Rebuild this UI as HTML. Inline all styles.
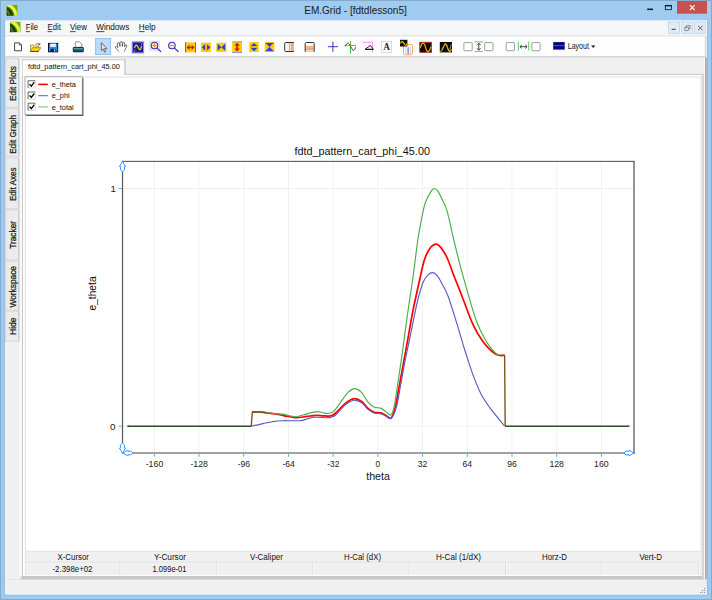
<!DOCTYPE html>
<html><head><meta charset="utf-8"><title>EM.Grid - [fdtdlesson5]</title>
<style>
html,body{margin:0;padding:0;background:#9fcbf1;overflow:hidden}
svg{display:block;font-family:"Liberation Sans",sans-serif}
</style></head><body>
<svg width="712" height="600" viewBox="0 0 712 600">
<rect x="0" y="0" width="712" height="600" fill="#9fcbf1"/>
<rect x="0.5" y="0.5" width="711" height="599" fill="none" stroke="#86aace" stroke-width="1"/>
<path d="M3.6 20.5 V596 H708.4 V20.5 H706.8 V594.4 H5.3 V20.5 Z" fill="#93c2ea"/>
<rect x="5.3" y="20.5" width="701.5" height="573.9" fill="#f0f0f0"/>
<rect x="5.5" y="20.5" width="701.5" height="14.5" fill="#f5f6f7"/>
<rect x="5.5" y="35" width="701.5" height="1.6" fill="#e6e7e8"/>
<rect x="5.5" y="36.6" width="699.3" height="19.4" fill="#fdfdfd"/>
<rect x="5.5" y="56" width="700.5" height="1.6" fill="#d6d6d6"/>
<rect x="704.8" y="36.6" width="1" height="20" fill="#dcdcdc"/>
<text x="355.5" y="14" font-size="11" text-anchor="middle" fill="#1a1a1a" textLength="102.5" lengthAdjust="spacingAndGlyphs" >EM.Grid - [fdtdlesson5]</text>
<rect x="677" y="1" width="30" height="12.7" fill="#c75050"/>
<path d="M689.9 5.2 L694.7 10 M694.7 5.2 L689.9 10" stroke="#fff" stroke-width="1.1" fill="none"/>
<rect x="665.3" y="5.5" width="6.2" height="4.2" fill="none" stroke="#111" stroke-width="0.8"/><rect x="664.9" y="5" width="7" height="1.3" fill="#111"/>
<rect x="647.2" y="8.6" width="5.8" height="1.45" fill="#111"/>
<defs><clipPath id="ic1"><rect x="0" y="0" width="11" height="11"/></clipPath></defs><g transform="translate(6.6,4.7) scale(1.0)" clip-path="url(#ic1)"><rect x="0" y="0" width="11" height="11" fill="#68b404"/><path d="M0 0 H5 Q10 3 11 9 V11 H0 Z" fill="#98d414"/><path d="M0 0 H4.4 Q9.8 3.4 10.8 11 H0 Z" fill="#f2f23c"/><path d="M0 1.2 Q6.6 3.6 8 11 H0 Z" fill="#2a7a10"/><path d="M0 2.6 Q5.2 4.8 6.4 11 H0 Z" fill="#0c4208"/><path d="M0 4.6 Q3.2 6.4 4 11 H0 Z" fill="#5a6a1a"/><path d="M0 7.6 Q1.4 8.6 1.8 11 H0 Z" fill="#2a3a0c"/></g>
<defs><clipPath id="ic2"><rect x="0" y="0" width="11" height="11"/></clipPath></defs><g transform="translate(9.9,21.5) scale(0.9818181818181819)" clip-path="url(#ic2)"><rect x="0" y="0" width="11" height="11" fill="#68b404"/><path d="M0 0 H5 Q10 3 11 9 V11 H0 Z" fill="#98d414"/><path d="M0 0 H4.4 Q9.8 3.4 10.8 11 H0 Z" fill="#f2f23c"/><path d="M0 1.2 Q6.6 3.6 8 11 H0 Z" fill="#2a7a10"/><path d="M0 2.6 Q5.2 4.8 6.4 11 H0 Z" fill="#0c4208"/><path d="M0 4.6 Q3.2 6.4 4 11 H0 Z" fill="#5a6a1a"/><path d="M0 7.6 Q1.4 8.6 1.8 11 H0 Z" fill="#2a3a0c"/></g>
<text x="25.8" y="30.2" font-size="9.4" text-anchor="start" fill="#111" textLength="12.2" lengthAdjust="spacingAndGlyphs" >File</text>
<rect x="25.8" y="31.3" width="4.2" height="0.8" fill="#222"/>
<text x="47.6" y="30.2" font-size="9.4" text-anchor="start" fill="#111" textLength="13.2" lengthAdjust="spacingAndGlyphs" >Edit</text>
<rect x="47.6" y="31.3" width="4.6" height="0.8" fill="#222"/>
<text x="70" y="30.2" font-size="9.4" text-anchor="start" fill="#111" textLength="16.8" lengthAdjust="spacingAndGlyphs" >View</text>
<rect x="70" y="31.3" width="5.6" height="0.8" fill="#222"/>
<text x="96.3" y="30.2" font-size="9.4" text-anchor="start" fill="#111" textLength="33" lengthAdjust="spacingAndGlyphs" >Windows</text>
<rect x="96.3" y="31.3" width="8.2" height="0.8" fill="#222"/>
<text x="138.8" y="30.2" font-size="9.4" text-anchor="start" fill="#111" textLength="16.8" lengthAdjust="spacingAndGlyphs" >Help</text>
<rect x="138.8" y="31.3" width="5.8" height="0.8" fill="#222"/>
<rect x="668.3" y="22" width="11.3" height="11.3" fill="#e0ebf8" stroke="#bccce0" stroke-width="0.7"/>
<rect x="681.3" y="22" width="11.3" height="11.3" fill="#e0ebf8" stroke="#bccce0" stroke-width="0.7"/>
<rect x="694.3" y="22" width="11.3" height="11.3" fill="#e0ebf8" stroke="#bccce0" stroke-width="0.7"/>
<rect x="671.7" y="28.8" width="4" height="1.2" fill="#555"/>
<rect x="684.8" y="27.3" width="3.8" height="3" fill="none" stroke="#666" stroke-width="0.7"/><path d="M686.3 27 V25.6 H690.2 V28.7 H689" fill="none" stroke="#666" stroke-width="0.7"/>
<path d="M698 25.7 L702.7 30.2 M702.7 25.7 L698 30.2" stroke="#505050" stroke-width="0.9"/>
<path d="M14.6 42.8 H19.3 L21.5 45 V50.8 H14.6 Z" fill="#fff" stroke="#333" stroke-width="0.9"/><path d="M19.3 42.8 V45 H21.5" fill="none" stroke="#333" stroke-width="0.7"/>
<path d="M30.5 45 H33.5 L34.3 46 H38.5 V51.3 H30.5 Z" fill="#ffe47a" stroke="#8a6a10" stroke-width="0.6"/>
<path d="M30.6 51.3 L32.6 47.6 H40.8 L38.6 51.3 Z" fill="#ffd21e" stroke="#8a6a10" stroke-width="0.6"/><rect x="30.4" y="51.1" width="8.4" height="0.7" fill="#3a3010"/>
<path d="M35.5 44.5 Q37.5 42.8 39.5 44.2 M39.8 43 V44.8 H38" fill="none" stroke="#333" stroke-width="0.7"/>
<rect x="48.5" y="43.4" width="9.2" height="8.4" fill="#1a94ec" stroke="#0c0c3c" stroke-width="1"/>
<rect x="50.3" y="43.6" width="5.6" height="3.3" fill="#f4f4f4"/><rect x="50.6" y="48.9" width="5" height="2.9" fill="#151540"/><rect x="54" y="49.5" width="1.1" height="1.8" fill="#eee"/>
<path d="M75.3 47.2 V42.6 Q75.3 41.8 76.1 41.8 H79.4 L81.8 44 V47.2 Z" fill="#fff" stroke="#777" stroke-width="0.8"/>
<rect x="72.8" y="47" width="11" height="5.2" rx="1.2" fill="#12226e"/>
<rect x="73.6" y="47.9" width="9.4" height="1.6" fill="#3fb070"/><rect x="73.6" y="49.5" width="9.4" height="1.2" fill="#2e6a9a"/>
<rect x="95.6" y="38.5" width="14.9" height="16" fill="#bedcf9" stroke="#94c2f2" stroke-width="1.1"/>
<path d="M101.3 42.6 V50.6 L103.2 49 L104.6 52.2 L105.8 51.7 L104.5 48.6 L106.9 48.4 Z" fill="#d4e6f8" stroke="#4a4a4a" stroke-width="0.75" stroke-linejoin="round"/>
<path d="M118.7 51.4 L115.5 47.6 Q115.2 46.4 116.4 46.4 L118 47.6 L117.2 44 Q117.4 42.4 118.6 42.6 Q119.4 42.8 119.6 44 L120 46.4 L119.9 43 Q120.2 41.4 121.2 41.4 Q122.2 41.4 122.3 43 L122.4 46.4 L122.6 43.4 Q123 42 123.9 42.3 Q124.8 42.6 124.7 44 L124.5 46.8 L125.3 45.2 Q126 44.4 126.6 45 Q127 45.6 126.6 46.6 L124.4 51.2" fill="#fff" stroke="#3a3a3a" stroke-width="0.7" stroke-linejoin="round" stroke-linecap="round"/>
<rect x="132.2" y="41.9" width="11.4" height="11" fill="#1c1c9c" stroke="#8c8cec" stroke-width="1.1"/>
<path d="M134.6 48 Q135.6 44 137 45.6 Q138.2 47 138.8 48.6 Q140 50.8 141 48.2 L141.5 45.8" fill="none" stroke="#ffd400" stroke-width="1.15"/>
<circle cx="141.7" cy="44.2" r="0.6" fill="#ffd400"/><circle cx="134.4" cy="50.8" r="0.6" fill="#ffd400"/>
<rect x="149.2" y="41.2" width="10.5" height="9" fill="#f0f0f0" stroke="#d8d8d8" stroke-width="0.6"/>
<path d="M157.1 48.1 L161.1 51.9" stroke="#2c2cc0" stroke-width="1.3"/><path d="M156.9 48.1 L158.1 49.1" stroke="#6a9a3a" stroke-width="0.9"/><circle cx="154.5" cy="45.5" r="3.3" fill="#ffe9c8" stroke="#3232c8" stroke-width="1.1"/><rect x="152.6" y="44.95" width="3.8" height="1.1" fill="#ff8a1e"/><rect x="153.95" y="43.6" width="1.1" height="3.8" fill="#ff8a1e"/>
<path d="M174.5 48.1 L178.5 51.9" stroke="#2c2cc0" stroke-width="1.3"/><path d="M174.3 48.1 L175.5 49.1" stroke="#6a9a3a" stroke-width="0.9"/><circle cx="171.9" cy="45.5" r="3.3" fill="#ffe9c8" stroke="#3232c8" stroke-width="1.1"/><rect x="170.0" y="44.95" width="3.8" height="1.1" fill="#ff8a1e"/>
<rect x="185.3" y="42.4" width="10.5" height="9.9" fill="#ffcc00"/><rect x="185.3" y="42.2" width="0.8" height="10.3" fill="#3c3cc8"/><rect x="195" y="42.2" width="0.8" height="10.3" fill="#3c3cc8"/>
<path d="M186.6 47.4 L189.6 44.8 V46.7 H191.6 V44.8 L194.6 47.4 L191.6 50 V48.1 H189.6 V50 Z" fill="#d01818"/>
<rect x="201" y="42.7" width="10" height="9.2" fill="#ffcc00"/><rect x="205.7" y="43.4" width="0.7" height="7.8" fill="#c89a00"/>
<path d="M201.8 47.3 L205 44.2 V50.4 Z M210.3 47.3 L207.1 44.2 V50.4 Z" fill="#2a3ae0"/>
<rect x="216.4" y="42.7" width="9.9" height="9.2" fill="#ffcc00"/>
<path d="M217.6 43.8 L221.4 47.3 L217.6 50.8 Z M225.2 43.8 L221.4 47.3 L225.2 50.8 Z" fill="#2a3ae0"/>
<rect x="232.2" y="41.7" width="9.8" height="11" fill="#ffcc00"/><rect x="232.2" y="41.5" width="9.8" height="0.8" fill="#7a7af0"/><rect x="232.2" y="52" width="9.8" height="0.8" fill="#7a7af0"/>
<path d="M237.1 42.8 L239.8 45.8 H237.9 V48.6 H239.8 L237.1 51.6 L234.4 48.6 H236.3 V45.8 H234.4 Z" fill="#d01818"/>
<rect x="249.2" y="42.1" width="9.6" height="9.9" fill="#ffcc00"/><rect x="250.2" y="46.7" width="7.6" height="0.7" fill="#c89a00"/>
<path d="M254 42.9 L257.2 46.1 H250.8 Z M254 51.2 L257.2 48 H250.8 Z" fill="#2a3ae0"/>
<rect x="264.8" y="42.1" width="9.5" height="9.9" fill="#ffcc00"/><rect x="265.6" y="42.9" width="7.9" height="0.9" fill="#2a3ae0"/><rect x="265.6" y="50.3" width="7.9" height="0.9" fill="#2a3ae0"/>
<path d="M266 43.3 H273.1 L269.55 47.05 Z M266 50.8 H273.1 L269.55 47.05 Z" fill="#2a3ae0"/>
<rect x="284.8" y="42.5" width="9.1" height="8.8" fill="#fff"/>
<rect x="290.6" y="42.9" width="3.3" height="8" fill="#f4a878"/><rect x="289.2" y="42.9" width="0.8" height="8" fill="#f09050"/><rect x="287.6" y="42.9" width="0.7" height="8" fill="#cfe0ee"/>
<path d="M293.9 42.5 H285.8 Q284.7 42.5 284.7 43.6 V50.4 Q284.7 51.5 285.8 51.5 H293.9" fill="none" stroke="#333" stroke-width="1"/>
<rect x="305.2" y="42.5" width="9" height="9.3" fill="#fff"/>
<rect x="305.6" y="47.2" width="8.2" height="3.2" fill="#f4a878"/><rect x="305.6" y="45.9" width="8.2" height="0.8" fill="#f09050"/><rect x="305.6" y="50.4" width="8.2" height="0.6" fill="#cfe0ee"/><rect x="305.6" y="51" width="8.2" height="0.8" fill="#f4b890"/>
<path d="M305.2 51.8 V43.6 Q305.2 42.5 306.3 42.5 H313.1 Q314.2 42.5 314.2 43.6 V51.8" fill="none" stroke="#333" stroke-width="1"/>
<path d="M327.9 46.7 H338 M332.9 41.7 V51.8" stroke="#3a3ab0" stroke-width="1" fill="none"/>
<path d="M350.5 41 V53.7 M344.7 45.4 H356.1" stroke="#30c050" stroke-width="0.9" fill="none"/>
<path d="M345.2 46.3 Q347.4 41.2 349.4 44.2 L351.8 48.6 Q353.8 52.8 355.7 47.2" stroke="#222" stroke-width="0.8" fill="none"/>
<rect x="349.7" y="44.6" width="1.6" height="1.6" fill="#ff8000"/>
<path d="M362.4 42.3 H372.5 V52.4" stroke="#ff70ff" stroke-width="0.8" fill="none"/>
<path d="M365.1 49.3 L370.4 45.4 L373.3 49.3 Z" stroke="#111" stroke-width="0.9" fill="#fff" stroke-linejoin="miter"/><rect x="365" y="48.9" width="8.4" height="0.9" fill="#111"/>
<rect x="381.3" y="41.4" width="10.4" height="10.9" fill="#fff" stroke="#c8c8c8" stroke-width="0.7"/>
<text x="386.5" y="50" font-family="Liberation Serif" font-weight="bold" font-size="9.3" text-anchor="middle" fill="#1a1a3a">A</text>
<rect x="403.4" y="44.5" width="9.1" height="10.3" rx="1.2" fill="#fff" stroke="#ff9a50" stroke-width="0.9"/>
<rect x="407.4" y="47.2" width="1.5" height="7" fill="#8a8af0"/><rect x="405.4" y="47.2" width="0.9" height="7" fill="#d0d0d0"/><rect x="410.1" y="47.2" width="0.9" height="7" fill="#d0d0d0"/>
<rect x="400" y="39.8" width="7.4" height="6.7" fill="#111"/>
<path d="M400.5 43.4 Q401.4 41 402.6 41.8 Q403.6 42.6 404.4 44 Q405.6 46 406.6 44.8 L407.1 43.4" stroke="#f0c000" stroke-width="1.1" fill="none"/>
<rect x="419.8" y="42.3" width="11.6" height="10" fill="#0a0a0a" stroke="#c02020" stroke-width="0.9"/>
<path d="M420.6 47.2 Q421.6 43 423.4 43.3 Q424.8 43.6 425.6 47.4 Q426.6 51.6 428 51.6 Q429.6 51.4 430.7 47.2" stroke="#f4cc00" stroke-width="1.1" fill="none"/><circle cx="420.5" cy="47.2" r="0.6" fill="#ff9a20"/><circle cx="430.8" cy="47.2" r="0.6" fill="#ff9a20"/>
<rect x="439.8" y="42" width="12.2" height="10.4" fill="#0a0a0a"/>
<path d="M441.6 49 Q443.4 47 444.6 45.2 Q445.8 43.8 446.8 45.4 Q448 48 448.8 50.6 Q449.6 51.4 450.2 49 L451.3 44.4" stroke="#a0a0b0" stroke-width="0.8" fill="none"/>
<path d="M440.3 51.8 Q442.4 50.8 443.6 46.8 Q444.6 43.4 445.4 43.6 Q446.4 43.8 447.4 47.6 Q448.6 51.6 449.8 51.6 Q450.8 51.4 451.6 49.4" stroke="#e8b000" stroke-width="1.1" fill="none"/>
<rect x="463.9" y="42.6" width="8.3" height="8.1" rx="0.7" fill="#fff" stroke="#949494" stroke-width="0.9"/>
<rect x="484.7" y="42.6" width="8.3" height="8.1" rx="0.7" fill="#fff" stroke="#949494" stroke-width="0.9"/>
<rect x="506.2" y="42.6" width="8.3" height="8.1" rx="0.7" fill="#fff" stroke="#949494" stroke-width="0.9"/>
<rect x="531.8" y="42.6" width="8.3" height="8.1" rx="0.7" fill="#fff" stroke="#949494" stroke-width="0.9"/>
<path d="M474.7 41.9 H482.8 M474.7 51.4 H482.8" stroke="#40d040" stroke-width="0.9"/>
<path d="M478.8 43.4 V50 M477 45.2 L478.8 43.2 L480.6 45.2 M477 48.2 L478.8 50.2 L480.6 48.2" stroke="#222" stroke-width="0.8" fill="none"/>
<path d="M518.3 41.7 V50.6 M528.7 41.7 V50.6" stroke="#40d040" stroke-width="0.9"/>
<path d="M520 46.7 H527 M521.8 45 L519.9 46.7 L521.8 48.4 M525.2 45 L527.1 46.7 L525.2 48.4" stroke="#222" stroke-width="0.8" fill="none"/>
<rect x="553.2" y="42.1" width="11.5" height="7.5" fill="#000080"/><rect x="553.2" y="45.4" width="11.5" height="0.7" fill="#8080d0"/>
<text x="567.7" y="49.1" font-size="8.4" text-anchor="start" fill="#111" textLength="21.3" lengthAdjust="spacingAndGlyphs" >Layout</text>
<path d="M591.1 45.6 H595.3 L593.2 47.9 Z" fill="#1a1a1a"/>
<rect x="5.8" y="58.8" width="13.3" height="48.7" fill="#ececec" stroke="#d0d0d0" stroke-width="0.8"/>
<rect x="18.6" y="58.8" width="0.9" height="48.7" fill="#b4b4b4"/>
<text transform="translate(16.3,83.5) rotate(-90)" font-size="8.7" text-anchor="middle" fill="#1a1a1a" stroke="#1a1a1a" stroke-width="0.25" textLength="35" lengthAdjust="spacingAndGlyphs">Edit Plots</text>
<rect x="5.8" y="108.8" width="13.3" height="47.500000000000014" fill="#ececec" stroke="#d0d0d0" stroke-width="0.8"/>
<rect x="18.6" y="108.8" width="0.9" height="47.500000000000014" fill="#b4b4b4"/>
<text transform="translate(16.3,134.4) rotate(-90)" font-size="8.7" text-anchor="middle" fill="#1a1a1a" stroke="#1a1a1a" stroke-width="0.25" textLength="38.80000000000001" lengthAdjust="spacingAndGlyphs">Edit Graph</text>
<rect x="5.8" y="158" width="13.3" height="50.80000000000001" fill="#ececec" stroke="#d0d0d0" stroke-width="0.8"/>
<rect x="18.6" y="158" width="0.9" height="50.80000000000001" fill="#b4b4b4"/>
<text transform="translate(16.3,184.25) rotate(-90)" font-size="8.7" text-anchor="middle" fill="#1a1a1a" stroke="#1a1a1a" stroke-width="0.25" textLength="33.5" lengthAdjust="spacingAndGlyphs">Edit Axes</text>
<rect x="5.8" y="210" width="13.3" height="50" fill="#ececec" stroke="#d0d0d0" stroke-width="0.8"/>
<rect x="18.6" y="210" width="0.9" height="50" fill="#b4b4b4"/>
<text transform="translate(16.3,234.9) rotate(-90)" font-size="8.7" text-anchor="middle" fill="#1a1a1a" stroke="#1a1a1a" stroke-width="0.25" textLength="27.80000000000001" lengthAdjust="spacingAndGlyphs">Tracker</text>
<rect x="5.8" y="261" width="13.3" height="49" fill="#ececec" stroke="#d0d0d0" stroke-width="0.8"/>
<rect x="18.6" y="261" width="0.9" height="49" fill="#b4b4b4"/>
<text transform="translate(16.3,286.75) rotate(-90)" font-size="8.7" text-anchor="middle" fill="#1a1a1a" stroke="#1a1a1a" stroke-width="0.25" textLength="41.5" lengthAdjust="spacingAndGlyphs">Workspace</text>
<rect x="5.8" y="311" width="13.3" height="30" fill="#ececec" stroke="#d0d0d0" stroke-width="0.8"/>
<rect x="18.6" y="311" width="0.9" height="30" fill="#b4b4b4"/>
<text transform="translate(16.3,326.25) rotate(-90)" font-size="8.7" text-anchor="middle" fill="#1a1a1a" stroke="#1a1a1a" stroke-width="0.25" textLength="17.5" lengthAdjust="spacingAndGlyphs">Hide</text>
<rect x="19.6" y="58" width="2.4" height="518" fill="#fbfbfb"/>
<path d="M19.9 579.4 L22 575.9 H704.6 V579.4 Z" fill="#c6c6c6"/>
<rect x="22" y="74.3" width="680" height="202" fill="#fdfdfd"/>
<rect x="22" y="276" width="680" height="299.9" fill="#fdfdfd"/>
<rect x="701.8" y="74.3" width="2.3" height="505.1" fill="#d6d6d6"/>
<rect x="704.1" y="57.6" width="1" height="521.8" fill="#fbfbfb"/>
<rect x="705.1" y="57.6" width="1.7" height="521.8" fill="#a6a6a6"/>
<rect x="124.6" y="73.9" width="579.2" height="0.9" fill="#c4c4c4"/>
<rect x="21.9" y="59.3" width="1.05" height="516.8" fill="#c8c8c8"/>
<rect x="22.7" y="59.8" width="102" height="17" fill="#fdfdfd"/>
<rect x="21.7" y="59.3" width="103.8" height="0.9" fill="#c8c8c8"/>
<rect x="124.5" y="59.3" width="1" height="15.4" fill="#b8b8b8"/>
<text x="28" y="69.3" font-size="7.5" text-anchor="start" fill="#111" textLength="91.8" lengthAdjust="spacingAndGlyphs" >fdtd_pattern_cart_phi_45.00</text>
<rect x="25.4" y="77" width="675.6" height="497.6" fill="#fff" stroke="#dedede" stroke-width="0.9"/>
<rect x="25.8" y="574.4" width="675.8" height="1.5" fill="#fdfdfd"/>
<rect x="25.8" y="551" width="674.8" height="23.5" fill="#f0f0f0"/>
<rect x="25.8" y="550.8" width="674.8" height="0.8" fill="#e2e2e2"/>
<rect x="25.8" y="561.6" width="674.8" height="0.8" fill="#e0e0e0"/>
<text x="73.25" y="560" font-size="8.3" text-anchor="middle" fill="#111" textLength="31.5" lengthAdjust="spacingAndGlyphs" >X-Cursor</text>
<text x="170" y="560" font-size="8.3" text-anchor="middle" fill="#111" textLength="32" lengthAdjust="spacingAndGlyphs" >Y-Cursor</text>
<text x="266.5" y="560" font-size="8.3" text-anchor="middle" fill="#111" textLength="33" lengthAdjust="spacingAndGlyphs" >V-Caliper</text>
<text x="362.5" y="560" font-size="8.3" text-anchor="middle" fill="#111" textLength="37" lengthAdjust="spacingAndGlyphs" >H-Cal (dX)</text>
<text x="458.5" y="560" font-size="8.3" text-anchor="middle" fill="#111" textLength="45" lengthAdjust="spacingAndGlyphs" >H-Cal (1/dX)</text>
<text x="554.5" y="560" font-size="8.3" text-anchor="middle" fill="#111" textLength="25" lengthAdjust="spacingAndGlyphs" >Horz-D</text>
<text x="650.75" y="560" font-size="8.3" text-anchor="middle" fill="#111" textLength="22.5" lengthAdjust="spacingAndGlyphs" >Vert-D</text>
<rect x="119.6" y="562.4" width="0.8" height="12" fill="#d8d8d8"/><rect x="120.4" y="562.4" width="0.8" height="12" fill="#fafafa"/>
<rect x="216.0" y="562.4" width="0.8" height="12" fill="#d8d8d8"/><rect x="216.8" y="562.4" width="0.8" height="12" fill="#fafafa"/>
<rect x="312.4" y="562.4" width="0.8" height="12" fill="#d8d8d8"/><rect x="313.2" y="562.4" width="0.8" height="12" fill="#fafafa"/>
<rect x="408.8" y="562.4" width="0.8" height="12" fill="#d8d8d8"/><rect x="409.6" y="562.4" width="0.8" height="12" fill="#fafafa"/>
<rect x="505.2" y="562.4" width="0.8" height="12" fill="#d8d8d8"/><rect x="506.0" y="562.4" width="0.8" height="12" fill="#fafafa"/>
<rect x="601.6" y="562.4" width="0.8" height="12" fill="#d8d8d8"/><rect x="602.4" y="562.4" width="0.8" height="12" fill="#fafafa"/>
<rect x="698.0" y="562.4" width="0.8" height="12" fill="#d8d8d8"/><rect x="698.8" y="562.4" width="0.8" height="12" fill="#fafafa"/>
<text x="72.5" y="572.2" font-size="8.3" text-anchor="middle" fill="#111" textLength="40" lengthAdjust="spacingAndGlyphs" >-2.398e+02</text>
<text x="169.5" y="572.2" font-size="8.3" text-anchor="middle" fill="#111" textLength="34" lengthAdjust="spacingAndGlyphs" >1.099e-01</text>
<rect x="5.5" y="579.2" width="14.5" height="0.7" fill="#e2e2e2"/>
<rect x="5.4" y="593.5" width="701.4" height="0.9" fill="#f8f6f4"/>
<rect x="5.3" y="342" width="1.3" height="252" fill="#f7f5f3"/>
<rect x="703.9" y="587.9" width="1.15" height="1.15" rx="0.3" fill="#8e8e8e"/>
<rect x="701.8" y="589.9" width="1.15" height="1.15" rx="0.3" fill="#8e8e8e"/>
<rect x="703.9" y="589.9" width="1.15" height="1.15" rx="0.3" fill="#8e8e8e"/>
<rect x="699.8" y="591.9" width="1.15" height="1.15" rx="0.3" fill="#8e8e8e"/>
<rect x="701.8" y="591.9" width="1.15" height="1.15" rx="0.3" fill="#8e8e8e"/>
<rect x="703.9" y="591.9" width="1.15" height="1.15" rx="0.3" fill="#8e8e8e"/>
<rect x="26.2" y="77.9" width="57.2" height="38.1" fill="#555"/>
<rect x="25" y="76.8" width="57.2" height="38" fill="#fff" stroke="#8a8a8a" stroke-width="0.7"/>
<rect x="28.1" y="80.7" width="7.2" height="7.2" fill="#fff" stroke="#d4d4d4" stroke-width="0.8"/><path d="M28.1 87.9 V80.7 H35.3" fill="none" stroke="#6a6a6a" stroke-width="0.9"/>
<path d="M29.6 84.1 L31.3 86.2 L34.3 82.2" stroke="#000" stroke-width="1.3" fill="none"/>
<path d="M38.2 84.4 H47.8" stroke="#ff0000" stroke-width="1.6"/>
<text x="51.7" y="87.1" font-size="7.7" text-anchor="start" fill="#111" textLength="24.2" lengthAdjust="spacingAndGlyphs" >e_theta</text>
<rect x="28.1" y="92.0" width="7.2" height="7.2" fill="#fff" stroke="#d4d4d4" stroke-width="0.8"/><path d="M28.1 99.2 V92.0 H35.3" fill="none" stroke="#6a6a6a" stroke-width="0.9"/>
<path d="M29.6 95.4 L31.3 97.5 L34.3 93.5" stroke="#000" stroke-width="1.3" fill="none"/>
<path d="M38.2 95.7 H47.8" stroke="#5a5ac8" stroke-width="1.0"/>
<text x="51.7" y="98.4" font-size="7.7" text-anchor="start" fill="#111" textLength="18" lengthAdjust="spacingAndGlyphs" >e_phi</text>
<rect x="28.1" y="103.2" width="7.2" height="7.2" fill="#fff" stroke="#d4d4d4" stroke-width="0.8"/><path d="M28.1 110.4 V103.2 H35.3" fill="none" stroke="#6a6a6a" stroke-width="0.9"/>
<path d="M29.6 106.6 L31.3 108.7 L34.3 104.7" stroke="#000" stroke-width="1.3" fill="none"/>
<path d="M38.2 106.9 H47.8" stroke="#6abf6a" stroke-width="1.0"/>
<text x="51.7" y="109.6" font-size="7.7" text-anchor="start" fill="#111" textLength="22" lengthAdjust="spacingAndGlyphs" >e_total</text>
<text x="362.2" y="155" font-size="10.8" text-anchor="middle" fill="#111" textLength="135.5" lengthAdjust="spacingAndGlyphs" >fdtd_pattern_cart_phi_45.00</text>
<rect x="153.85" y="161.4" width="0.9" height="291.6" fill="#f0f0f0"/>
<rect x="198.56" y="161.4" width="0.9" height="291.6" fill="#f0f0f0"/>
<rect x="243.27" y="161.4" width="0.9" height="291.6" fill="#f0f0f0"/>
<rect x="287.98" y="161.4" width="0.9" height="291.6" fill="#f0f0f0"/>
<rect x="332.69" y="161.4" width="0.9" height="291.6" fill="#f0f0f0"/>
<rect x="377.40" y="161.4" width="0.9" height="291.6" fill="#f0f0f0"/>
<rect x="422.11" y="161.4" width="0.9" height="291.6" fill="#f0f0f0"/>
<rect x="466.82" y="161.4" width="0.9" height="291.6" fill="#f0f0f0"/>
<rect x="511.53" y="161.4" width="0.9" height="291.6" fill="#f0f0f0"/>
<rect x="556.24" y="161.4" width="0.9" height="291.6" fill="#f0f0f0"/>
<rect x="600.95" y="161.4" width="0.9" height="291.6" fill="#f0f0f0"/>
<rect x="122.5" y="188.05" width="511.5" height="0.9" fill="#f0f0f0"/>
<rect x="122.5" y="425.65" width="511.5" height="0.9" fill="#f0f0f0"/>
<rect x="153.85" y="453.6" width="0.9" height="3.2" fill="#4ab8a8"/>
<rect x="198.56" y="453.6" width="0.9" height="3.2" fill="#4ab8a8"/>
<rect x="243.27" y="453.6" width="0.9" height="3.2" fill="#4ab8a8"/>
<rect x="287.98" y="453.6" width="0.9" height="3.2" fill="#4ab8a8"/>
<rect x="332.69" y="453.6" width="0.9" height="3.2" fill="#4ab8a8"/>
<rect x="377.40" y="453.6" width="0.9" height="3.2" fill="#4ab8a8"/>
<rect x="422.11" y="453.6" width="0.9" height="3.2" fill="#4ab8a8"/>
<rect x="466.82" y="453.6" width="0.9" height="3.2" fill="#4ab8a8"/>
<rect x="511.53" y="453.6" width="0.9" height="3.2" fill="#4ab8a8"/>
<rect x="556.24" y="453.6" width="0.9" height="3.2" fill="#4ab8a8"/>
<rect x="600.95" y="453.6" width="0.9" height="3.2" fill="#4ab8a8"/>
<rect x="118.6" y="188.05" width="3.2" height="0.9" fill="#4ab8a8"/>
<rect x="118.6" y="425.65" width="3.2" height="0.9" fill="#4ab8a8"/>
<text x="154.5" y="467.2" font-size="9.8" text-anchor="middle" fill="#222" textLength="17.6" lengthAdjust="spacingAndGlyphs" >-160</text>
<text x="199.2" y="467.2" font-size="9.8" text-anchor="middle" fill="#222" textLength="17.6" lengthAdjust="spacingAndGlyphs" >-128</text>
<text x="243.9" y="467.2" font-size="9.8" text-anchor="middle" fill="#222" textLength="12.4" lengthAdjust="spacingAndGlyphs" >-96</text>
<text x="288.6" y="467.2" font-size="9.8" text-anchor="middle" fill="#222" textLength="12.4" lengthAdjust="spacingAndGlyphs" >-64</text>
<text x="333.3" y="467.2" font-size="9.8" text-anchor="middle" fill="#222" textLength="12" lengthAdjust="spacingAndGlyphs" >-32</text>
<text x="377.9" y="467.2" font-size="9.8" text-anchor="middle" fill="#222" textLength="4.6" lengthAdjust="spacingAndGlyphs" >0</text>
<text x="422.6" y="467.2" font-size="9.8" text-anchor="middle" fill="#222" textLength="9.6" lengthAdjust="spacingAndGlyphs" >32</text>
<text x="467.3" y="467.2" font-size="9.8" text-anchor="middle" fill="#222" textLength="9.6" lengthAdjust="spacingAndGlyphs" >64</text>
<text x="512.0" y="467.2" font-size="9.8" text-anchor="middle" fill="#222" textLength="9.6" lengthAdjust="spacingAndGlyphs" >96</text>
<text x="556.7" y="467.2" font-size="9.8" text-anchor="middle" fill="#222" textLength="14.6" lengthAdjust="spacingAndGlyphs" >128</text>
<text x="601.4" y="467.2" font-size="9.8" text-anchor="middle" fill="#222" textLength="14.6" lengthAdjust="spacingAndGlyphs" >160</text>
<text x="116" y="192" font-size="9.8" text-anchor="end" fill="#222" >1</text>
<text x="115.4" y="430" font-size="9.8" text-anchor="end" fill="#222" >0</text>
<text x="378" y="479.8" font-size="10.8" text-anchor="middle" fill="#111" textLength="23.6" lengthAdjust="spacingAndGlyphs" >theta</text>
<text transform="translate(96,293.5) rotate(-90)" font-size="10.8" text-anchor="middle" fill="#111" textLength="34.2" lengthAdjust="spacingAndGlyphs">e_theta</text>
<path d="M127 426.1 H129 M627.6 426.1 H629.6" stroke="#e03020" stroke-width="1.3" fill="none"/>
<path d="M252.4 411.8 C253.3 411.8 255.7 411.7 258.0 411.9 C260.4 412.1 263.2 412.4 266.5 412.8 C269.8 413.2 274.9 413.9 277.9 414.4 C280.8 414.9 282.1 415.4 284.2 415.8 C286.3 416.2 288.5 416.4 290.6 416.7 C292.7 417.0 294.2 417.8 296.9 417.7 C299.6 417.6 303.6 416.8 307.0 416.4 C310.4 416.0 314.4 415.5 317.1 415.4 C319.8 415.3 320.8 415.7 323.0 415.8 C325.2 415.9 328.1 416.4 330.1 416.0 C332.1 415.6 332.7 415.6 335.2 413.5 C337.7 411.4 342.1 405.9 345.3 403.4 C348.5 400.9 351.4 399.0 354.1 398.7 C356.8 398.4 359.4 399.9 361.7 401.5 C364.0 403.1 365.9 406.6 368.0 408.4 C370.1 410.2 372.3 411.4 374.4 412.2 C376.5 412.9 378.8 412.4 380.7 412.9 C382.6 413.4 383.9 414.6 385.7 415.4 C387.5 416.2 389.7 419.4 391.3 417.9 C392.9 416.4 394.2 411.3 395.5 406.2 C396.8 401.1 397.6 394.9 399.0 387.5 C400.4 380.1 402.1 370.4 403.7 361.8 C405.3 353.2 406.8 344.6 408.4 336.0 C409.9 327.4 411.6 317.4 413.0 310.4 C414.4 303.4 415.4 299.1 416.5 294.0 C417.6 288.9 418.3 285.6 419.6 280.0 C420.9 274.4 422.6 265.8 424.2 260.6 C425.8 255.4 427.6 251.7 429.5 249.0 C431.4 246.3 433.9 244.4 435.8 244.2 C437.7 244.0 439.2 245.5 441.1 247.9 C443.0 250.3 445.3 253.9 447.4 258.5 C449.5 263.1 451.7 270.1 453.7 275.3 C455.7 280.6 457.7 285.0 459.6 290.0 C461.6 295.0 463.1 299.4 465.4 305.3 C467.7 311.2 470.5 319.3 473.4 325.3 C476.3 331.3 479.6 336.9 482.7 341.3 C485.8 345.7 489.5 349.2 492.1 351.5 C494.8 353.8 496.5 354.7 498.6 355.3 C500.7 355.9 503.6 355.4 504.6 355.4" fill="none" stroke="#ff0000" stroke-width="1.7" stroke-linejoin="round" stroke-linecap="butt"/>
<path d="M251.5 426.2 C253.4 425.8 260.3 424.2 262.8 423.6 C265.3 423.0 265.1 423.1 266.6 422.8 C268.1 422.5 269.5 422.2 272.0 421.8 C274.5 421.4 277.1 420.9 281.7 420.7 C286.3 420.5 295.2 421.0 299.4 420.7 C303.6 420.4 304.5 419.6 307.0 419.0 C309.5 418.4 311.2 417.5 314.6 417.3 C318.0 417.1 324.5 417.7 327.2 417.7 C329.9 417.7 329.5 417.7 331.0 417.2 C332.5 416.7 333.6 416.9 336.0 414.8 C338.4 412.8 342.3 407.3 345.3 404.9 C348.3 402.5 351.4 400.5 354.1 400.2 C356.8 399.9 359.4 401.3 361.7 402.8 C364.0 404.3 365.9 407.7 368.0 409.4 C370.1 411.1 372.3 412.4 374.4 413.1 C376.5 413.8 378.8 413.2 380.7 413.7 C382.6 414.2 383.9 415.2 385.7 416.0 C387.5 416.8 389.5 419.8 391.3 418.2 C393.1 416.6 395.1 411.9 396.7 406.2 C398.3 400.5 399.4 391.4 400.8 384.0 C402.2 376.6 403.2 370.2 404.9 361.8 C406.5 353.4 408.8 343.1 410.7 333.7 C412.6 324.3 414.9 312.7 416.5 305.7 C418.1 298.7 418.8 295.8 420.0 291.7 C421.2 287.6 422.3 284.0 423.6 281.2 C424.9 278.4 426.5 276.2 428.0 274.8 C429.5 273.4 431.3 272.6 432.7 272.6 C434.1 272.6 435.3 273.6 436.5 274.8 C437.7 276.0 438.1 276.5 440.0 280.0 C441.9 283.5 445.1 288.4 448.0 296.0 C450.9 303.6 454.5 316.0 457.4 325.3 C460.3 334.6 462.7 343.6 465.4 352.0 C468.1 360.4 470.7 368.9 473.4 376.0 C476.1 383.1 478.3 388.9 481.4 394.7 C484.5 400.5 488.2 405.5 492.1 410.7 C496.0 415.9 502.5 423.4 504.6 426.0" fill="none" stroke="#5a5ac4" stroke-width="1.15" stroke-linejoin="round" stroke-linecap="butt"/>
<path d="M252.4 411.8 C253.3 411.8 255.7 411.8 258.0 411.9 C260.4 412.0 263.2 412.3 266.5 412.6 C269.8 412.9 274.9 413.6 277.9 413.9 C280.8 414.2 282.1 414.0 284.2 414.4 C286.3 414.8 288.5 415.6 290.6 416.0 C292.7 416.4 294.2 417.1 296.9 416.7 C299.6 416.3 303.6 414.8 307.0 413.9 C310.4 413.0 314.4 411.8 317.1 411.6 C319.8 411.4 321.2 412.5 323.0 412.8 C324.8 413.1 325.8 413.7 327.6 413.5 C329.4 413.3 331.6 413.2 333.7 411.4 C335.8 409.6 337.8 405.9 340.2 402.8 C342.6 399.7 345.4 395.0 347.8 392.6 C350.2 390.2 352.5 388.6 354.8 388.6 C357.1 388.6 359.5 390.4 361.7 392.6 C363.9 394.9 365.9 399.7 368.0 402.1 C370.1 404.5 372.3 406.2 374.4 407.2 C376.5 408.2 378.8 407.4 380.7 408.1 C382.6 408.8 384.0 410.5 385.7 411.6 C387.4 412.8 389.4 415.9 390.8 415.0 C392.2 414.1 393.1 411.6 394.3 406.2 C395.5 400.8 396.7 390.6 397.9 382.8 C399.1 375.0 400.2 367.6 401.4 359.4 C402.6 351.2 403.7 342.3 404.9 333.7 C406.1 325.1 407.1 316.9 408.4 308.0 C409.7 299.1 411.0 291.4 412.6 280.0 C414.2 268.6 416.4 249.7 417.9 239.5 C419.4 229.3 420.3 225.1 421.5 219.0 C422.7 212.9 423.8 207.2 425.3 202.7 C426.8 198.2 429.1 194.5 430.6 192.1 C432.1 189.7 432.9 188.7 434.1 188.5 C435.3 188.3 436.4 188.9 437.9 191.1 C439.4 193.3 441.6 198.1 443.2 201.6 C444.8 205.1 445.6 205.8 447.4 212.1 C449.1 218.4 451.6 230.7 453.7 239.5 C455.8 248.3 457.9 256.7 460.0 264.8 C462.1 272.9 465.1 283.2 466.4 288.0 C467.7 292.8 466.4 288.0 468.0 293.3 C469.6 298.6 473.1 312.2 476.0 320.0 C478.9 327.8 482.3 334.6 485.4 340.0 C488.5 345.4 492.4 350.0 494.8 352.5 C497.2 355.0 498.0 354.7 499.6 355.2 C501.2 355.7 503.8 355.4 504.6 355.4" fill="none" stroke="#4cac4c" stroke-width="1.15" stroke-linejoin="round" stroke-linecap="butt"/>
<path d="M128 426.25 H251.3 M505.1 426.25 H628.6" fill="none" stroke="#2c4c22" stroke-width="1.4"/>
<path d="M251.2 426.2 L252.4 411.8 L258 411.9 L266.6 412.7 M499.8 355.4 H504.6 L505.2 426.1" fill="none" stroke="#7a5216" stroke-width="1.35" stroke-linejoin="round"/>
<rect x="122.5" y="452.2" width="512.4" height="1.6" fill="#8a8a8a"/>
<rect x="633.1" y="161.4" width="1.8" height="292.40000000000003" fill="#8a8a8a"/>
<rect x="121.9" y="160.85" width="513.0" height="1.1" fill="#5a5a5a"/>
<rect x="121.9" y="160.85" width="1.25" height="292.20000000000005" fill="#5a5a5a"/>
<path d="M122.5 161.5 L125.6 166.6 L124.2 166.8 L124.7 169.7 L122.5 171.7 L120.3 169.7 L120.8 166.8 L119.4 166.6 Z" fill="#fff" stroke="#3c96ff" stroke-width="1" stroke-linejoin="round"/>
<path d="M122.5 453.3 L125.6 448.1 L124.2 447.9 L124.7 445.1 L122.5 443.0 L120.3 445.1 L120.8 447.9 L119.4 448.1 Z" fill="#fff" stroke="#3c96ff" stroke-width="1" stroke-linejoin="round"/>
<path d="M122.8 453.0 L127.8 455.9 L128.0 454.6 L130.8 455.0 L132.8 453.0 L130.8 451.0 L128.0 451.4 L127.8 450.1 Z" fill="#fff" stroke="#3c96ff" stroke-width="1" stroke-linejoin="round"/>
<path d="M634.0 453.0 L629.0 455.9 L628.8 454.6 L626.0 455.0 L624.0 453.0 L626.0 451.0 L628.8 451.4 L629.0 450.1 Z" fill="#fff" stroke="#3c96ff" stroke-width="1" stroke-linejoin="round"/>
</svg>
</body></html>
